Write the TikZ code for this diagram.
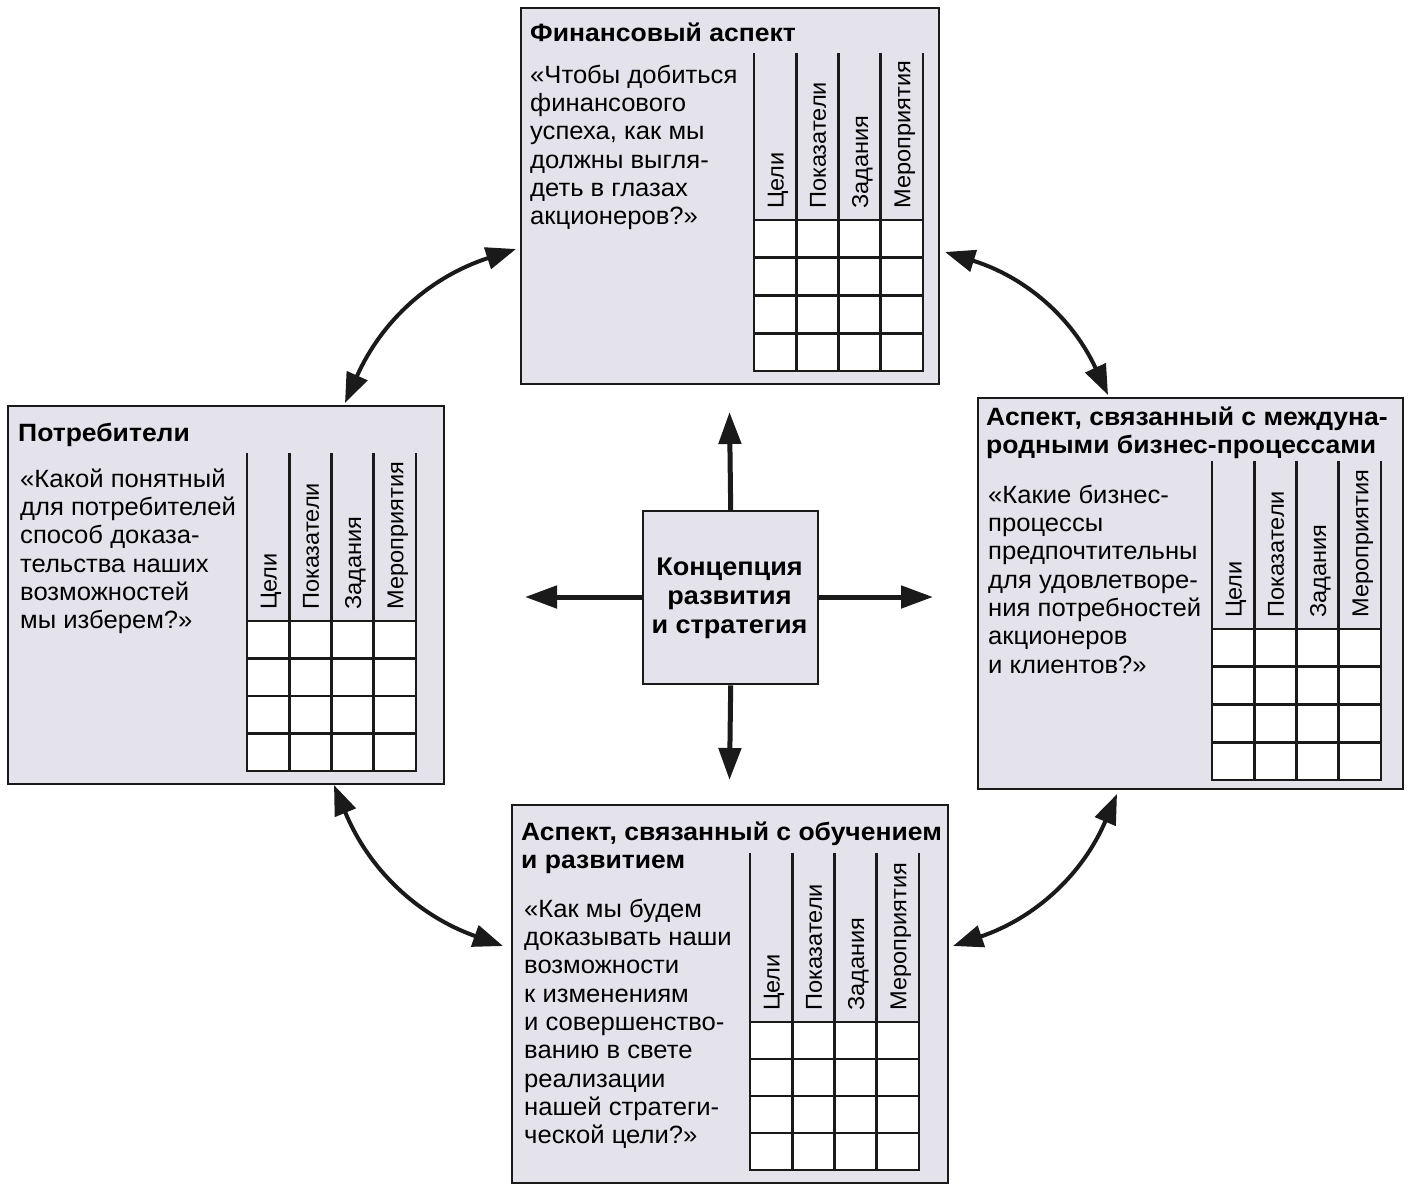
\documentclass[tikz,border=0pt]{standalone}
\usepackage{fontspec}
\setmainfont{Liberation Sans}[FakeStretch=1.025, BoldFeatures={FakeStretch=1.06}]
\usetikzlibrary{arrows.meta}
\definecolor{panelfill}{HTML}{E4E2EA}
\definecolor{ink}{HTML}{1A1A1A}
\tikzset{
  panel/.style={draw=ink, line width=2.4pt, fill=panelfill, inner sep=0pt, anchor=north west},
  ttl/.style={font=\bfseries\fontsize{25}{28}\selectfont, align=left, anchor=north west, inner sep=0pt},
  qt/.style={font=\fontsize{25}{28.3}\selectfont, align=left, anchor=north west, inner sep=0pt},
  ctr/.style={font=\bfseries\fontsize{25.5}{29.2}\selectfont, align=center, anchor=north, inner sep=0pt},
  hdr/.style={font=\fontsize{23}{28}\selectfont, rotate=90, anchor=base west, inner sep=0pt},
  grid line/.style={draw=ink, line width=2.6pt, line cap=rect},
  link/.style={draw=ink, line width=4pt, {Triangle[length=30pt,width=22pt]}-{Triangle[length=30pt,width=22pt]}, bend left=24},
  ray/.style={draw=ink, line width=5pt, -{Triangle[length=32pt,width=22pt]}},
}
% #1 prefix, #2 x0, #3 ytop, #4 yheader, #5 ybottom
\newcommand\scoretable[5]{%
  \fill[white] (#2,#4) rectangle (#2+169,#5);
  \foreach \i in {0,...,4} \draw[grid line] ({#2+\i*42.25},#3) -- ({#2+\i*42.25},#5);
  \foreach \j in {0,...,4} \draw[grid line] (#2,{#4+\j*(#5-#4)/4}) -- (#2+169,{#4+\j*(#5-#4)/4});
  \node[hdr] (#1-c1) at (#2+21.1+8.4, #4-11) {Цели};
  \node[hdr] (#1-c2) at (#2+63.4+8.4, #4-11) {Показатели};
  \node[hdr] (#1-c3) at (#2+105.6+8.4, #4-11) {Задания};
  \node[hdr] (#1-c4) at (#2+147.9+8.4, #4-11) {Мероприятия};
}
\begin{document}
\begin{tikzpicture}[x=1pt,y=-1pt]
\useasboundingbox (0,0) rectangle (1408,1188);
\fill[white] (0,0) rectangle (1408,1188);

% panels
\node[panel, minimum width=418pt, minimum height=376pt] (fin) at (520,7) {};
\node[panel, minimum width=436pt, minimum height=378pt] (cus) at (7,405) {};
\node[panel, minimum width=425pt, minimum height=391pt] (pro) at (977,397) {};
\node[panel, minimum width=436pt, minimum height=378pt] (lrn) at (511,804) {};
\node[panel, minimum width=175pt, minimum height=173pt] (cen) at (642,510) {};

% financial
\node[ttl] (fin-t) at (530,41-19.6) {\strut Финансовый аспект};
\node[qt] (fin-q) at (530,83-19.8) {\strut«Чтобы добиться\\финансового\\успеха, как мы\\должны выгля-\\деть в глазах\\акционеров?»};
\scoretable{fin}{754}{54}{220}{371}

% customers
\node[ttl] (cus-t) at (18,441-19.6) {\strut Потребители};
\node[qt] (cus-q) at (20,487-19.8) {\strut«Какой понятный\\для потребителей\\способ доказа-\\тельства наших\\возможностей\\мы изберем?»};
\scoretable{cus}{247}{454}{621}{771}

% processes
\node[ttl] (pro-t) at (986,425-19.6) {\strut Аспект, связанный с междуна-\\родными бизнес-процессами};
\node[qt] (pro-q) at (988,503-19.8) {\strut«Какие бизнес-\\процессы\\предпочтительны\\для удовлетворе-\\ния потребностей\\акционеров\\и клиентов?»};
\scoretable{pro}{1212}{462}{629}{780}

% learning
\node[ttl] (lrn-t) at (521,840-19.6) {\strut Аспект, связанный с обучением\\и развитием};
\node[qt] (lrn-q) at (524,917-19.8) {\strut«Как мы будем\\доказывать наши\\возможности\\к изменениям\\и совершенство-\\ванию в свете\\реализации\\нашей стратеги-\\ческой цели?»};
\scoretable{lrn}{750}{854}{1022}{1170}

% centre
\node[ctr] (cen-t) at (729.5,575-20.4) {\strut Концепция\\развития\\и стратегия};

% rays
\coordinate (upTip) at (729.5,412);
\coordinate (downTip) at (729.5,780);
\coordinate (leftTip) at (525,597);
\coordinate (rightTip) at (933,597);
\draw[ray] (cen.north) -- (upTip);
\draw[ray] (cen.south) -- (downTip);
\draw[ray] (cen.west |- leftTip) -- (leftTip);
\draw[ray] (cen.east |- rightTip) -- (rightTip);

% curved links
\coordinate (tlA) at (345,403);
\coordinate (tlB) at (516,249);
\coordinate (trA) at (945,252);
\coordinate (trB) at (1108,395);
\coordinate (brA) at (1117,794);
\coordinate (brB) at (953,946);
\coordinate (blA) at (503,946);
\coordinate (blB) at (334,785);
\draw[link] (tlA) to (tlB);
\draw[link] (trA) to (trB);
\draw[link] (brA) to (brB);
\draw[link] (blA) to (blB);
\end{tikzpicture}
\end{document}
